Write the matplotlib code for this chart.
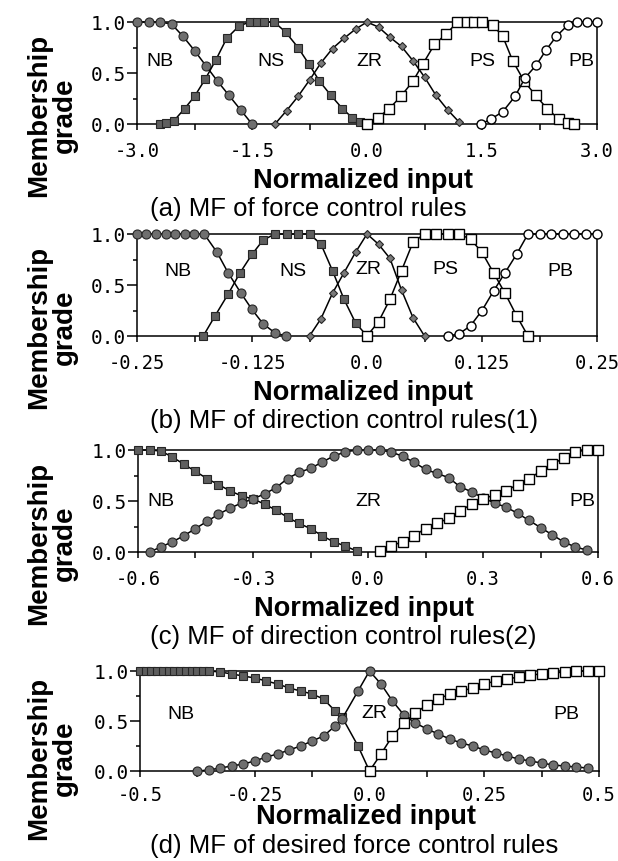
import matplotlib
matplotlib.use("Agg")
import matplotlib.pyplot as plt
from matplotlib import font_manager

W, H = 618, 862

# (a) force control rules
a_x_nb = [-3.0, -2.85, -2.7, -2.55, -2.4, -2.25, -2.1, -1.95, -1.8, -1.65, -1.5]
a_nb = [1.0, 1.0, 1.0, 0.98, 0.86, 0.72, 0.57, 0.42, 0.28, 0.14, 0.0]
a_x_ns = [-2.7, -2.62, -2.52, -2.38, -2.25, -2.11, -1.97, -1.83, -1.67, -1.53, -1.43,
          -1.34, -1.21, -1.06, -0.9, -0.76, -0.62, -0.47, -0.32, -0.19, -0.09, 0.0]
a_ns = [0.0, 0.01, 0.03, 0.15, 0.27, 0.44, 0.63, 0.84, 0.96, 1.0, 1.0,
        1.0, 1.0, 0.9, 0.75, 0.59, 0.42, 0.28, 0.15, 0.06, 0.02, 0.0]
a_x_zr = [-1.2, -1.05, -0.9, -0.75, -0.6, -0.45, -0.3, -0.15, 0.0,
          0.15, 0.3, 0.45, 0.6, 0.75, 0.9, 1.05, 1.2]
a_zr = [0.0, 0.13, 0.27, 0.43, 0.6, 0.74, 0.84, 0.93, 1.0,
        0.95, 0.85, 0.76, 0.62, 0.46, 0.28, 0.14, 0.02]
a_x_ps = [0.0, 0.14, 0.29, 0.44, 0.6, 0.73, 0.88, 1.03, 1.18, 1.3, 1.4,
          1.5, 1.64, 1.77, 1.9, 2.05, 2.2, 2.35, 2.5, 2.62, 2.7]
a_ps = [0.0, 0.06, 0.15, 0.27, 0.42, 0.59, 0.78, 0.88, 1.0, 1.0, 1.0,
        1.0, 0.97, 0.86, 0.62, 0.42, 0.28, 0.15, 0.05, 0.01, 0.0]
a_x_pb = [1.49, 1.62, 1.77, 1.93, 2.06, 2.21, 2.34, 2.47, 2.62, 2.74, 2.87, 3.0]
a_pb = [0.0, 0.05, 0.12, 0.27, 0.45, 0.58, 0.73, 0.86, 0.97, 1.0, 1.0, 1.0]

# (b) direction control rules (1)
b_x_nb = [-0.25, -0.24, -0.229, -0.219, -0.209, -0.198, -0.188, -0.177,
          -0.163, -0.151, -0.137, -0.125, -0.113, -0.1, -0.088]
b_nb = [1.0, 1.0, 1.0, 1.0, 1.0, 1.0, 1.0, 1.0,
        0.82, 0.62, 0.42, 0.26, 0.12, 0.03, 0.0]
b_x_ns = [-0.178, -0.165, -0.151, -0.138, -0.125, -0.113, -0.1, -0.0875,
          -0.075, -0.0625, -0.05, -0.0375, -0.025, -0.0125, 0.0]
b_ns = [0.0, 0.2, 0.41, 0.62, 0.8, 0.94, 1.0, 1.0,
        1.0, 1.0, 0.9, 0.64, 0.36, 0.13, 0.0]
b_x_zr = [-0.0625, -0.05, -0.0375, -0.025, -0.0125, 0.0,
          0.0125, 0.025, 0.0375, 0.05, 0.0625]
b_zr = [0.0, 0.17, 0.42, 0.62, 0.82, 1.0, 0.9, 0.76, 0.45, 0.18, 0.0]
b_x_ps = [0.0, 0.0125, 0.025, 0.0375, 0.05, 0.0625, 0.075, 0.0875,
          0.1, 0.1125, 0.125, 0.1375, 0.15, 0.1625, 0.175]
b_ps = [0.0, 0.14, 0.36, 0.64, 0.92, 1.0, 1.0, 1.0,
        1.0, 0.95, 0.82, 0.62, 0.42, 0.2, 0.0]
b_x_pb = [0.0875, 0.1, 0.1125, 0.125, 0.1375, 0.15, 0.1625,
          0.175, 0.1875, 0.2, 0.2125, 0.225, 0.2375, 0.25]
b_pb = [0.0, 0.02, 0.1, 0.25, 0.44, 0.62, 0.8,
        1.0, 1.0, 1.0, 1.0, 1.0, 1.0, 1.0]

# (c) direction control rules (2)
c_x_nb = [-0.6, -0.57, -0.54, -0.51, -0.48, -0.45, -0.42, -0.39, -0.36, -0.33,
          -0.3, -0.27, -0.24, -0.21, -0.18, -0.15, -0.12, -0.09, -0.06, -0.03]
c_nb = [1.0, 1.0, 0.99, 0.93, 0.86, 0.79, 0.72, 0.66, 0.6, 0.55,
        0.52, 0.47, 0.41, 0.34, 0.28, 0.23, 0.16, 0.1, 0.06, 0.01]
c_x_zr = [-0.57, -0.54, -0.51, -0.48, -0.45, -0.42, -0.39, -0.36, -0.33, -0.3,
          -0.27, -0.24, -0.21, -0.18, -0.15, -0.12, -0.09, -0.06, -0.03, 0.0,
          0.03, 0.06, 0.09, 0.12, 0.15, 0.18, 0.21, 0.24, 0.27, 0.3,
          0.33, 0.36, 0.39, 0.42, 0.45, 0.48, 0.51, 0.54, 0.57]
c_zr = [0.0, 0.05, 0.1, 0.16, 0.23, 0.3, 0.37, 0.43, 0.48, 0.52,
        0.57, 0.63, 0.72, 0.78, 0.82, 0.88, 0.94, 0.98, 1.0, 1.0,
        1.0, 0.98, 0.94, 0.88, 0.81, 0.77, 0.73, 0.64, 0.59, 0.53,
        0.48, 0.44, 0.38, 0.31, 0.24, 0.17, 0.1, 0.05, 0.02]
c_x_pb = [0.03, 0.06, 0.09, 0.12, 0.15, 0.18, 0.21, 0.24, 0.27, 0.3,
          0.33, 0.36, 0.39, 0.42, 0.45, 0.48, 0.51, 0.54, 0.57, 0.6]
c_pb = [0.01, 0.06, 0.1, 0.16, 0.23, 0.28, 0.33, 0.4, 0.47, 0.52,
        0.56, 0.6, 0.66, 0.72, 0.79, 0.86, 0.92, 0.98, 1.0, 1.0]

# (d) desired force control rules
d_x_nb = [-0.5, -0.4875, -0.475, -0.4625, -0.45, -0.4375, -0.425, -0.4125,
          -0.4, -0.3875, -0.375, -0.3625, -0.35, -0.325, -0.3, -0.275, -0.25,
          -0.225, -0.2, -0.175, -0.15, -0.125, -0.1, -0.075, -0.06, -0.025, 0.0]
d_nb = [1.0, 1.0, 1.0, 1.0, 1.0, 1.0, 1.0, 1.0,
        1.0, 1.0, 1.0, 1.0, 1.0, 0.99, 0.97, 0.95, 0.93,
        0.9, 0.87, 0.83, 0.8, 0.77, 0.72, 0.6, 0.54, 0.25, 0.0]
d_x_zr = [-0.375, -0.35, -0.325, -0.3, -0.275, -0.25, -0.225, -0.2, -0.175,
          -0.15, -0.125, -0.1, -0.075, -0.06, -0.025, 0.0, 0.025, 0.05, 0.075,
          0.1, 0.125, 0.15, 0.175, 0.2, 0.225, 0.25, 0.275, 0.3, 0.325,
          0.35, 0.375, 0.4, 0.425, 0.45, 0.475]
d_zr = [0.0, 0.01, 0.03, 0.05, 0.07, 0.1, 0.14, 0.17, 0.21,
        0.25, 0.3, 0.35, 0.45, 0.52, 0.8, 1.0, 0.87, 0.7, 0.56,
        0.48, 0.42, 0.37, 0.32, 0.28, 0.25, 0.21, 0.18, 0.15, 0.12,
        0.1, 0.08, 0.06, 0.05, 0.04, 0.03]
d_x_pb = [0.0, 0.025, 0.05, 0.075, 0.1, 0.125, 0.15, 0.175, 0.2, 0.225, 0.25,
          0.275, 0.3, 0.325, 0.35, 0.375, 0.4, 0.425, 0.45, 0.475, 0.5]
d_pb = [0.0, 0.17, 0.35, 0.48, 0.58, 0.66, 0.72, 0.77, 0.8, 0.83, 0.87,
        0.9, 0.92, 0.94, 0.96, 0.97, 0.98, 0.99, 1.0, 1.0, 1.0]

# marker styles
GRAY_C = dict(marker="o", ms=6.5, mfc="#6f6f6f", mec="#262626", mew=0.8)
GRAY_S = dict(marker="s", ms=6.0, mfc="#5e5e5e", mec="#262626", mew=0.8)
GRAY_D = dict(marker="D", ms=4.2, mfc="#7a7a7a", mec="#262626", mew=0.8)
OPEN_S = dict(marker="s", ms=6.5, mfc="white", mec="black", mew=1.0)
OPEN_C = dict(marker="o", ms=6.5, mfc="white", mec="black", mew=1.0)

names = {f.name for f in font_manager.fontManager.ttflist}
LABEL_FONT = "Liberation Sans Narrow" if "Liberation Sans Narrow" in names else "Liberation Sans"
TICK_FONT = "DejaVu Sans Mono"
BOLD_FONT = "Liberation Sans"

fig = plt.figure(figsize=(W / 100, H / 100), dpi=100)


def add_ax(l, t, r, b):
    return fig.add_axes([l / W, 1 - b / H, (r - l) / W, (b - t) / H])


def panel(box, series, xlim, ticks, ticklabels, minor, labels, caption,
          xl_off=56, cap_off=84, yl_off=-10, pad=8):
    l, t, r, b = box
    ax = add_ax(l, t, r, b)
    for x, y, st in series:
        ax.plot(x, y, color="black", lw=1.1, clip_on=False, zorder=3, **st)
    ax.set_xlim(xlim)
    ax.set_ylim(0, 1)
    ax.set_xticks(ticks)
    ax.set_xticklabels(ticklabels, family=TICK_FONT, fontsize=13.5)
    ax.set_xticks(minor, minor=True)
    ax.set_yticks([0, 0.5, 1.0])
    ax.set_yticklabels(["0.0", "0.5", "1.0"], family=TICK_FONT, fontsize=14)
    ax.set_yticks([0.25, 0.75], minor=True)
    ax.tick_params(axis="x", which="both", direction="out", length=4, width=1.1, pad=pad)
    ax.tick_params(axis="y", which="major", direction="out", length=7, width=1.1, pad=1)
    ax.tick_params(axis="y", which="minor", direction="out", length=3, width=1.1)
    for s in ax.spines.values():
        s.set_linewidth(1.1)
    for txt, x, y in labels:
        ax.text(x, y, txt, ha="center", va="center", fontsize=14, family=LABEL_FONT)
    fig.text(((l + r) / 2 - 4) / W, 1 - (b + xl_off) / H, "Normalized input",
             ha="center", va="center", fontsize=19.5, fontweight="bold", family=BOLD_FONT)
    fig.text(150 / W, 1 - (b + cap_off) / H, caption,
             ha="left", va="center", fontsize=18.5, family=BOLD_FONT)
    fig.text(52 / W, 1 - (b + yl_off) / H, "Membership\ngrade", rotation=90,
             ha="center", va="center", multialignment="center", linespacing=0.95,
             fontsize=20, fontweight="bold", family=BOLD_FONT)
    return ax


panel((137, 23, 597, 125),
      [(a_x_nb, a_nb, GRAY_C), (a_x_ns, a_ns, GRAY_S), (a_x_zr, a_zr, GRAY_D),
       (a_x_ps, a_ps, OPEN_S), (a_x_pb, a_pb, OPEN_C)],
      (-3.0, 3.0), [-3.0, -1.5, 0.0, 1.5, 3.0], ["-3.0", "-1.5", "0.0", "1.5", "3.0"],
      [-2.25, -0.75, 0.75, 2.25],
      [("NB", -2.7, 0.62), ("NS", -1.25, 0.62), ("ZR", 0.03, 0.62),
       ("PS", 1.5, 0.62), ("PB", 2.8, 0.62)],
      "(a) MF of force control rules")

panel((137, 235, 597, 337),
      [(b_x_nb, b_nb, GRAY_C), (b_x_ns, b_ns, GRAY_S), (b_x_zr, b_zr, GRAY_D),
       (b_x_ps, b_ps, OPEN_S), (b_x_pb, b_pb, OPEN_C)],
      (-0.25, 0.25), [-0.25, -0.125, 0.0, 0.125, 0.25],
      ["-0.25", "-0.125", "0.0", "0.125", "0.25"],
      [-0.1875, -0.0625, 0.0625, 0.1875],
      [("NB", -0.205, 0.64), ("NS", -0.08, 0.64), ("ZR", 0.002, 0.66),
       ("PS", 0.085, 0.66), ("PB", 0.21, 0.64)],
      "(b) MF of direction control rules(1)")

panel((138, 451, 598, 553),
      [(c_x_nb, c_nb, GRAY_S), (c_x_zr, c_zr, GRAY_C), (c_x_pb, c_pb, OPEN_S)],
      (-0.6, 0.6), [-0.6, -0.3, 0.0, 0.3, 0.6], ["-0.6", "-0.3", "0.0", "0.3", "0.6"],
      [-0.45, -0.15, 0.15, 0.45],
      [("NB", -0.54, 0.5), ("ZR", 0.0, 0.5), ("PB", 0.56, 0.5)],
      "(c) MF of direction control rules(2)")

panel((140, 672, 599, 772),
      [(d_x_nb, d_nb, GRAY_S), (d_x_zr, d_zr, GRAY_C), (d_x_pb, d_pb, OPEN_S)],
      (-0.5, 0.5), [-0.5, -0.25, 0.0, 0.25, 0.5], ["-0.5", "-0.25", "0.0", "0.25", "0.5"],
      [-0.375, -0.125, 0.125, 0.375],
      [("NB", -0.41, 0.57), ("ZR", 0.01, 0.58), ("PB", 0.43, 0.57)],
      "(d) MF of desired force control rules", xl_off=45, cap_off=74, yl_off=-14, pad=6)

fig.savefig("out.png", dpi=100)
